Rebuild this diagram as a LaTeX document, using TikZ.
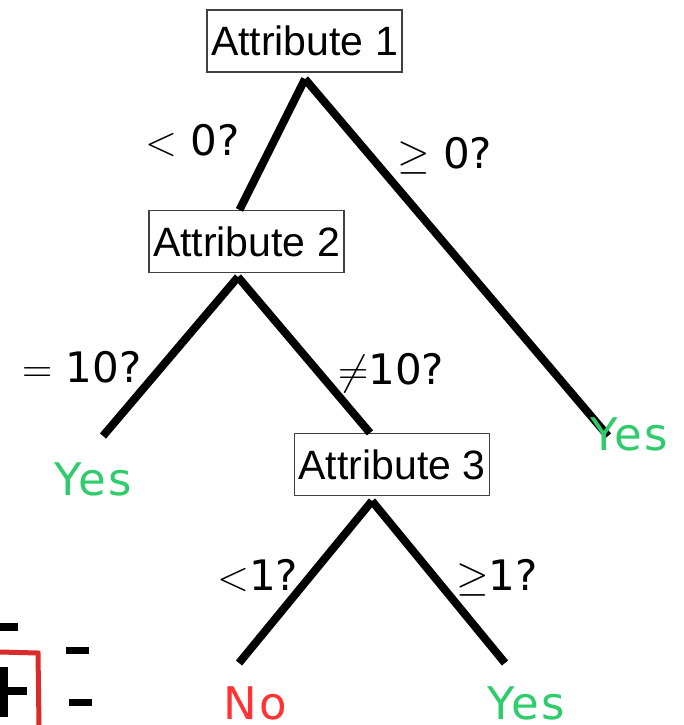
\RequirePackage{fix-cm}
\documentclass[tikz,border=0pt]{standalone}
\usepackage{fontspec}
\setmainfont{DejaVu Sans}
\newfontfamily\attrfont{Liberation Sans}
\newfontfamily\leaffont[LetterSpace=6]{DejaVu Sans}
\definecolor{leafgreen}{RGB}{46,204,106}
\definecolor{leafred}{RGB}{255,51,51}
\begin{document}
\begin{tikzpicture}[x=1pt,y=-1pt,
  attr/.style={draw=black!75,line width=1.2pt,font=\attrfont\fontsize{41}{48}\selectfont,
    text height=30pt,text depth=0pt,inner xsep=4pt,inner ysep=16pt},
  branch/.style={line width=8pt},
  cond/.style={anchor=base west,inner sep=0pt,font=\fontsize{42}{50}\selectfont},
  leaf/.style={anchor=base west,inner sep=0pt,font=\leaffont\fontsize{45}{54}\selectfont}]
 \useasboundingbox (0,0) rectangle (683,725);
 % the tree
 \node[attr] (attr1) at (304.5,41) {Attribute 1};
 \node[attr] (attr2) at (246.5,241.5) {Attribute 2};
 \node[attr] (attr3) at (392,464.5) {Attribute 3};
 \coordinate (a1) at (305,79);
 \coordinate (a2) at (238,277);
 \coordinate (a3) at (372,501);
 \coordinate (endyes1) at (103,436);
 \coordinate (endyes2) at (608,436);
 \coordinate (endno) at (239,663);
 \coordinate (endyes3) at (505,663);
 \draw[branch] (a1) -- ([xshift=-7pt]attr2.north);
 \draw[branch] (a1) -- (endyes2);
 \draw[branch] (a2) -- (endyes1);
 \draw[branch] (a2) -- ([xshift=-22pt]attr3.north);
 \draw[branch] (a3) -- (endno);
 \draw[branch] (a3) -- (endyes3);
 % branch tests
 \node[cond] (c1) at (145,155) {$<$ 0?};
 \node[cond] (c2) at (397,168) {$\geq$ 0?};
 \node[cond] (c3) at (22,382) {$=$ 10?};
 \node[cond] (c4) at (338,384) {$\neq$10?};
 \node[cond] (c5) at (217,590) {$<$1?};
 \node[cond] (c6) at (456,590) {$\geq$1?};
 % leaves
 \node[leaf,text=leafgreen] (yes1) at (54,495) {Yes};
 \node[leaf,text=leafgreen] (yes2) at (590,450) {Yes};
 \node[leaf,text=leafred] (no) at (223,719) {No};
 \node[leaf,text=leafgreen] (yes3) at (487,719) {Yes};
 % cut-off corner of another figure
 \draw[line width=8pt] (0,627) -- (18,627);
 \draw[leafred!85!black,line width=5pt] (0,652) -- (38,653) -- (39,725);
 \draw[line width=8pt] (4,667) -- (4,717) (0,691) -- (27,691);
 \draw[line width=7pt] (66,650) -- (89,650) (69,702) -- (92,702);
\end{tikzpicture}
\end{document}
